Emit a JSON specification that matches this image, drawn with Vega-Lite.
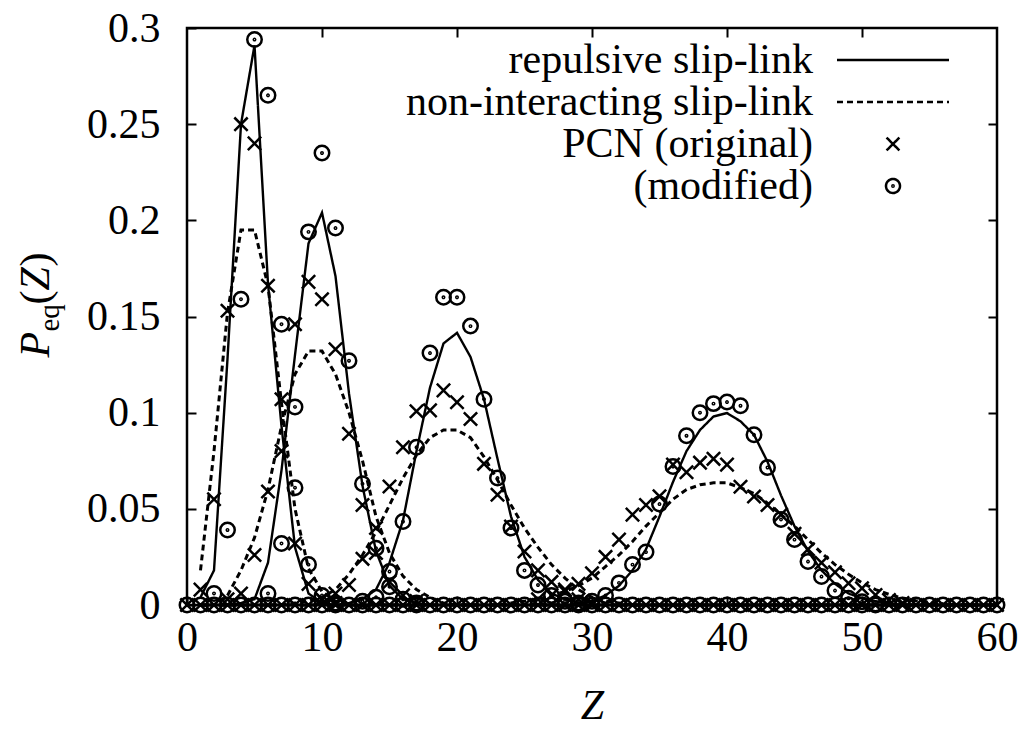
{
"$schema":"https://vega.github.io/schema/vega-lite/v6.json",
"autosize":{"type":"none"},
"padding":{"left":187,"top":28,"right":29,"bottom":125},
"width":810,"height":577,
"background":"white",
"config":{"view":{"stroke":"black","strokeWidth":2.5},"axis":{"grid":false,"domain":false}},
"data":{"values":[
{"z":1,"p":0.004,"k":"rep","g":"A"},{"z":2,"p":0.018,"k":"rep","g":"A"},{"z":3,"p":0.128,"k":"rep","g":"A"},{"z":4,"p":0.25,"k":"rep","g":"A"},{"z":5,"p":0.291,"k":"rep","g":"A"},{"z":6,"p":0.167,"k":"rep","g":"A"},{"z":7,"p":0.093,"k":"rep","g":"A"},{"z":8,"p":0.03,"k":"rep","g":"A"},{"z":9,"p":0.006,"k":"rep","g":"A"},{"z":10,"p":0.001,"k":"rep","g":"A"},{"z":11,"p":0,"k":"rep","g":"A"},{"z":60,"p":0,"k":"rep","g":"A"},
{"z":1,"p":0.018,"k":"non","g":"A"},{"z":2,"p":0.08,"k":"non","g":"A"},{"z":3,"p":0.152,"k":"non","g":"A"},{"z":4,"p":0.195,"k":"non","g":"A"},{"z":5,"p":0.195,"k":"non","g":"A"},{"z":6,"p":0.166,"k":"non","g":"A"},{"z":7,"p":0.105,"k":"non","g":"A"},{"z":8,"p":0.05,"k":"non","g":"A"},{"z":9,"p":0.019,"k":"non","g":"A"},{"z":10,"p":0.007,"k":"non","g":"A"},{"z":11,"p":0.002,"k":"non","g":"A"},{"z":12,"p":0,"k":"non","g":"A"},{"z":60,"p":0,"k":"non","g":"A"},
{"z":1,"p":0,"k":"rep","g":"B"},{"z":3,"p":0,"k":"rep","g":"B"},{"z":4,"p":0.001,"k":"rep","g":"B"},{"z":5,"p":0.003,"k":"rep","g":"B"},{"z":6,"p":0.022,"k":"rep","g":"B"},{"z":7,"p":0.07,"k":"rep","g":"B"},{"z":8,"p":0.13,"k":"rep","g":"B"},{"z":9,"p":0.188,"k":"rep","g":"B"},{"z":10,"p":0.204,"k":"rep","g":"B"},{"z":11,"p":0.171,"k":"rep","g":"B"},{"z":12,"p":0.11,"k":"rep","g":"B"},{"z":13,"p":0.062,"k":"rep","g":"B"},{"z":14,"p":0.028,"k":"rep","g":"B"},{"z":15,"p":0.01,"k":"rep","g":"B"},{"z":16,"p":0.003,"k":"rep","g":"B"},{"z":17,"p":0.001,"k":"rep","g":"B"},{"z":18,"p":0,"k":"rep","g":"B"},{"z":60,"p":0,"k":"rep","g":"B"},
{"z":1,"p":0,"k":"non","g":"B"},{"z":2,"p":0,"k":"non","g":"B"},{"z":3,"p":0.005,"k":"non","g":"B"},{"z":4,"p":0.018,"k":"non","g":"B"},{"z":5,"p":0.035,"k":"non","g":"B"},{"z":6,"p":0.06,"k":"non","g":"B"},{"z":7,"p":0.093,"k":"non","g":"B"},{"z":8,"p":0.12,"k":"non","g":"B"},{"z":9,"p":0.132,"k":"non","g":"B"},{"z":10,"p":0.132,"k":"non","g":"B"},{"z":11,"p":0.12,"k":"non","g":"B"},{"z":12,"p":0.1,"k":"non","g":"B"},{"z":13,"p":0.075,"k":"non","g":"B"},{"z":14,"p":0.046,"k":"non","g":"B"},{"z":15,"p":0.027,"k":"non","g":"B"},{"z":16,"p":0.015,"k":"non","g":"B"},{"z":17,"p":0.008,"k":"non","g":"B"},{"z":18,"p":0.004,"k":"non","g":"B"},{"z":19,"p":0.001,"k":"non","g":"B"},{"z":20,"p":0,"k":"non","g":"B"},{"z":60,"p":0,"k":"non","g":"B"},
{"z":1,"p":0,"k":"rep","g":"C"},{"z":11,"p":0,"k":"rep","g":"C"},{"z":12,"p":0.001,"k":"rep","g":"C"},{"z":13,"p":0.003,"k":"rep","g":"C"},{"z":14,"p":0.008,"k":"rep","g":"C"},{"z":15,"p":0.022,"k":"rep","g":"C"},{"z":16,"p":0.044,"k":"rep","g":"C"},{"z":17,"p":0.08,"k":"rep","g":"C"},{"z":18,"p":0.113,"k":"rep","g":"C"},{"z":19,"p":0.136,"k":"rep","g":"C"},{"z":20,"p":0.1415,"k":"rep","g":"C"},{"z":21,"p":0.129,"k":"rep","g":"C"},{"z":22,"p":0.107,"k":"rep","g":"C"},{"z":23,"p":0.076,"k":"rep","g":"C"},{"z":24,"p":0.046,"k":"rep","g":"C"},{"z":25,"p":0.025,"k":"rep","g":"C"},{"z":26,"p":0.013,"k":"rep","g":"C"},{"z":27,"p":0.006,"k":"rep","g":"C"},{"z":28,"p":0.003,"k":"rep","g":"C"},{"z":29,"p":0.001,"k":"rep","g":"C"},{"z":30,"p":0,"k":"rep","g":"C"},{"z":60,"p":0,"k":"rep","g":"C"},
{"z":1,"p":0,"k":"non","g":"C"},{"z":7,"p":0,"k":"non","g":"C"},{"z":8,"p":0.001,"k":"non","g":"C"},{"z":9,"p":0.002,"k":"non","g":"C"},{"z":10,"p":0.004,"k":"non","g":"C"},{"z":11,"p":0.008,"k":"non","g":"C"},{"z":12,"p":0.016,"k":"non","g":"C"},{"z":13,"p":0.026,"k":"non","g":"C"},{"z":14,"p":0.038,"k":"non","g":"C"},{"z":15,"p":0.052,"k":"non","g":"C"},{"z":16,"p":0.066,"k":"non","g":"C"},{"z":17,"p":0.078,"k":"non","g":"C"},{"z":18,"p":0.087,"k":"non","g":"C"},{"z":19,"p":0.091,"k":"non","g":"C"},{"z":20,"p":0.091,"k":"non","g":"C"},{"z":21,"p":0.087,"k":"non","g":"C"},{"z":22,"p":0.077,"k":"non","g":"C"},{"z":23,"p":0.065,"k":"non","g":"C"},{"z":24,"p":0.052,"k":"non","g":"C"},{"z":25,"p":0.04,"k":"non","g":"C"},{"z":26,"p":0.03,"k":"non","g":"C"},{"z":27,"p":0.021,"k":"non","g":"C"},{"z":28,"p":0.014,"k":"non","g":"C"},{"z":29,"p":0.008,"k":"non","g":"C"},{"z":30,"p":0.004,"k":"non","g":"C"},{"z":31,"p":0.002,"k":"non","g":"C"},{"z":32,"p":0.001,"k":"non","g":"C"},{"z":33,"p":0,"k":"non","g":"C"},{"z":60,"p":0,"k":"non","g":"C"},
{"z":1,"p":0,"k":"rep","g":"D"},{"z":28,"p":0,"k":"rep","g":"D"},{"z":29,"p":0.0005,"k":"rep","g":"D"},{"z":30,"p":0.002,"k":"rep","g":"D"},{"z":31,"p":0.005,"k":"rep","g":"D"},{"z":32,"p":0.01,"k":"rep","g":"D"},{"z":33,"p":0.018,"k":"rep","g":"D"},{"z":34,"p":0.029,"k":"rep","g":"D"},{"z":35,"p":0.046,"k":"rep","g":"D"},{"z":36,"p":0.064,"k":"rep","g":"D"},{"z":37,"p":0.08,"k":"rep","g":"D"},{"z":38,"p":0.091,"k":"rep","g":"D"},{"z":39,"p":0.098,"k":"rep","g":"D"},{"z":40,"p":0.0998,"k":"rep","g":"D"},{"z":41,"p":0.0955,"k":"rep","g":"D"},{"z":42,"p":0.0885,"k":"rep","g":"D"},{"z":43,"p":0.0745,"k":"rep","g":"D"},{"z":44,"p":0.057,"k":"rep","g":"D"},{"z":45,"p":0.041,"k":"rep","g":"D"},{"z":46,"p":0.028,"k":"rep","g":"D"},{"z":47,"p":0.018,"k":"rep","g":"D"},{"z":48,"p":0.011,"k":"rep","g":"D"},{"z":49,"p":0.006,"k":"rep","g":"D"},{"z":50,"p":0.0035,"k":"rep","g":"D"},{"z":51,"p":0.002,"k":"rep","g":"D"},{"z":52,"p":0.001,"k":"rep","g":"D"},{"z":53,"p":0,"k":"rep","g":"D"},{"z":60,"p":0,"k":"rep","g":"D"},
{"z":1,"p":0,"k":"non","g":"D"},{"z":23,"p":0,"k":"non","g":"D"},{"z":24,"p":0.001,"k":"non","g":"D"},{"z":25,"p":0.002,"k":"non","g":"D"},{"z":26,"p":0.003,"k":"non","g":"D"},{"z":27,"p":0.005,"k":"non","g":"D"},{"z":28,"p":0.007,"k":"non","g":"D"},{"z":29,"p":0.01,"k":"non","g":"D"},{"z":30,"p":0.014,"k":"non","g":"D"},{"z":31,"p":0.02,"k":"non","g":"D"},{"z":32,"p":0.026,"k":"non","g":"D"},{"z":33,"p":0.033,"k":"non","g":"D"},{"z":34,"p":0.041,"k":"non","g":"D"},{"z":35,"p":0.048,"k":"non","g":"D"},{"z":36,"p":0.055,"k":"non","g":"D"},{"z":37,"p":0.06,"k":"non","g":"D"},{"z":38,"p":0.0625,"k":"non","g":"D"},{"z":39,"p":0.0635,"k":"non","g":"D"},{"z":40,"p":0.0635,"k":"non","g":"D"},{"z":41,"p":0.061,"k":"non","g":"D"},{"z":42,"p":0.058,"k":"non","g":"D"},{"z":43,"p":0.053,"k":"non","g":"D"},{"z":44,"p":0.047,"k":"non","g":"D"},{"z":45,"p":0.041,"k":"non","g":"D"},{"z":46,"p":0.034,"k":"non","g":"D"},{"z":47,"p":0.027,"k":"non","g":"D"},{"z":48,"p":0.021,"k":"non","g":"D"},{"z":49,"p":0.016,"k":"non","g":"D"},{"z":50,"p":0.0115,"k":"non","g":"D"},{"z":51,"p":0.008,"k":"non","g":"D"},{"z":52,"p":0.0055,"k":"non","g":"D"},{"z":53,"p":0.0035,"k":"non","g":"D"},{"z":54,"p":0.0022,"k":"non","g":"D"},{"z":55,"p":0.0013,"k":"non","g":"D"},{"z":56,"p":0.0007,"k":"non","g":"D"},{"z":57,"p":0.0003,"k":"non","g":"D"},{"z":58,"p":0,"k":"non","g":"D"},{"z":60,"p":0,"k":"non","g":"D"},
{"z":1,"p":0.008,"k":"pcn","g":"A"},{"z":2,"p":0.055,"k":"pcn","g":"A"},{"z":3,"p":0.153,"k":"pcn","g":"A"},{"z":4,"p":0.25,"k":"pcn","g":"A"},{"z":5,"p":0.24,"k":"pcn","g":"A"},{"z":6,"p":0.166,"k":"pcn","g":"A"},{"z":7,"p":0.08,"k":"pcn","g":"A"},{"z":8,"p":0.032,"k":"pcn","g":"A"},{"z":9,"p":0.011,"k":"pcn","g":"A"},{"z":10,"p":0.003,"k":"pcn","g":"A"},{"z":11,"p":0.001,"k":"pcn","g":"A"},
{"z":2,"p":0.006,"k":"mod","g":"A"},{"z":3,"p":0.039,"k":"mod","g":"A"},{"z":4,"p":0.159,"k":"mod","g":"A"},{"z":5,"p":0.294,"k":"mod","g":"A"},{"z":6,"p":0.265,"k":"mod","g":"A"},{"z":7,"p":0.146,"k":"mod","g":"A"},{"z":8,"p":0.061,"k":"mod","g":"A"},{"z":9,"p":0.021,"k":"mod","g":"A"},{"z":10,"p":0.005,"k":"mod","g":"A"},{"z":11,"p":0.001,"k":"mod","g":"A"},
{"z":3,"p":0.003,"k":"pcn","g":"B"},{"z":4,"p":0.006,"k":"pcn","g":"B"},{"z":5,"p":0.026,"k":"pcn","g":"B"},{"z":6,"p":0.059,"k":"pcn","g":"B"},{"z":7,"p":0.107,"k":"pcn","g":"B"},{"z":8,"p":0.146,"k":"pcn","g":"B"},{"z":9,"p":0.168,"k":"pcn","g":"B"},{"z":10,"p":0.159,"k":"pcn","g":"B"},{"z":11,"p":0.133,"k":"pcn","g":"B"},{"z":12,"p":0.089,"k":"pcn","g":"B"},{"z":13,"p":0.052,"k":"pcn","g":"B"},{"z":14,"p":0.027,"k":"pcn","g":"B"},{"z":15,"p":0.012,"k":"pcn","g":"B"},{"z":16,"p":0.005,"k":"pcn","g":"B"},{"z":17,"p":0.002,"k":"pcn","g":"B"},
{"z":6,"p":0.006,"k":"mod","g":"B"},{"z":7,"p":0.032,"k":"mod","g":"B"},{"z":8,"p":0.103,"k":"mod","g":"B"},{"z":9,"p":0.194,"k":"mod","g":"B"},{"z":10,"p":0.235,"k":"mod","g":"B"},{"z":11,"p":0.196,"k":"mod","g":"B"},{"z":12,"p":0.127,"k":"mod","g":"B"},{"z":13,"p":0.063,"k":"mod","g":"B"},{"z":14,"p":0.0295,"k":"mod","g":"B"},{"z":15,"p":0.0095,"k":"mod","g":"B"},{"z":16,"p":0.003,"k":"mod","g":"B"},{"z":17,"p":0.001,"k":"mod","g":"B"},
{"z":10,"p":0.003,"k":"pcn","g":"C"},{"z":11,"p":0.006,"k":"pcn","g":"C"},{"z":12,"p":0.0104,"k":"pcn","g":"C"},{"z":13,"p":0.024,"k":"pcn","g":"C"},{"z":14,"p":0.04,"k":"pcn","g":"C"},{"z":15,"p":0.0616,"k":"pcn","g":"C"},{"z":16,"p":0.082,"k":"pcn","g":"C"},{"z":17,"p":0.1007,"k":"pcn","g":"C"},{"z":18,"p":0.1012,"k":"pcn","g":"C"},{"z":19,"p":0.1116,"k":"pcn","g":"C"},{"z":20,"p":0.1054,"k":"pcn","g":"C"},{"z":21,"p":0.0967,"k":"pcn","g":"C"},{"z":22,"p":0.0734,"k":"pcn","g":"C"},{"z":23,"p":0.0573,"k":"pcn","g":"C"},{"z":24,"p":0.0408,"k":"pcn","g":"C"},{"z":25,"p":0.0278,"k":"pcn","g":"C"},{"z":26,"p":0.018,"k":"pcn","g":"C"},{"z":27,"p":0.012,"k":"pcn","g":"C"},{"z":28,"p":0.007,"k":"pcn","g":"C"},{"z":29,"p":0.003,"k":"pcn","g":"C"},{"z":30,"p":0.001,"k":"pcn","g":"C"},
{"z":13,"p":0.002,"k":"mod","g":"C"},{"z":14,"p":0.004,"k":"mod","g":"C"},{"z":15,"p":0.0174,"k":"mod","g":"C"},{"z":16,"p":0.0434,"k":"mod","g":"C"},{"z":17,"p":0.082,"k":"mod","g":"C"},{"z":18,"p":0.131,"k":"mod","g":"C"},{"z":19,"p":0.16,"k":"mod","g":"C"},{"z":20,"p":0.16,"k":"mod","g":"C"},{"z":21,"p":0.145,"k":"mod","g":"C"},{"z":22,"p":0.107,"k":"mod","g":"C"},{"z":23,"p":0.066,"k":"mod","g":"C"},{"z":24,"p":0.04,"k":"mod","g":"C"},{"z":25,"p":0.018,"k":"mod","g":"C"},{"z":26,"p":0.0104,"k":"mod","g":"C"},{"z":27,"p":0.005,"k":"mod","g":"C"},{"z":28,"p":0.002,"k":"mod","g":"C"},
{"z":26,"p":0.003,"k":"pcn","g":"D"},{"z":27,"p":0.005,"k":"pcn","g":"D"},{"z":28,"p":0.008,"k":"pcn","g":"D"},{"z":29,"p":0.011,"k":"pcn","g":"D"},{"z":30,"p":0.0165,"k":"pcn","g":"D"},{"z":31,"p":0.025,"k":"pcn","g":"D"},{"z":32,"p":0.034,"k":"pcn","g":"D"},{"z":33,"p":0.047,"k":"pcn","g":"D"},{"z":34,"p":0.052,"k":"pcn","g":"D"},{"z":35,"p":0.0565,"k":"pcn","g":"D"},{"z":36,"p":0.073,"k":"pcn","g":"D"},{"z":37,"p":0.069,"k":"pcn","g":"D"},{"z":38,"p":0.074,"k":"pcn","g":"D"},{"z":39,"p":0.076,"k":"pcn","g":"D"},{"z":40,"p":0.073,"k":"pcn","g":"D"},{"z":41,"p":0.0615,"k":"pcn","g":"D"},{"z":42,"p":0.0564,"k":"pcn","g":"D"},{"z":43,"p":0.052,"k":"pcn","g":"D"},{"z":44,"p":0.047,"k":"pcn","g":"D"},{"z":45,"p":0.037,"k":"pcn","g":"D"},{"z":46,"p":0.029,"k":"pcn","g":"D"},{"z":47,"p":0.022,"k":"pcn","g":"D"},{"z":48,"p":0.017,"k":"pcn","g":"D"},{"z":49,"p":0.0113,"k":"pcn","g":"D"},{"z":50,"p":0.0087,"k":"pcn","g":"D"},{"z":51,"p":0.0052,"k":"pcn","g":"D"},{"z":52,"p":0.0026,"k":"pcn","g":"D"},{"z":53,"p":0.001,"k":"pcn","g":"D"},
{"z":29,"p":0.001,"k":"mod","g":"D"},{"z":30,"p":0.002,"k":"mod","g":"D"},{"z":31,"p":0.005,"k":"mod","g":"D"},{"z":32,"p":0.0115,"k":"mod","g":"D"},{"z":33,"p":0.021,"k":"mod","g":"D"},{"z":34,"p":0.0275,"k":"mod","g":"D"},{"z":35,"p":0.0525,"k":"mod","g":"D"},{"z":36,"p":0.072,"k":"mod","g":"D"},{"z":37,"p":0.088,"k":"mod","g":"D"},{"z":38,"p":0.1,"k":"mod","g":"D"},{"z":39,"p":0.1047,"k":"mod","g":"D"},{"z":40,"p":0.1055,"k":"mod","g":"D"},{"z":41,"p":0.1036,"k":"mod","g":"D"},{"z":42,"p":0.0885,"k":"mod","g":"D"},{"z":43,"p":0.0715,"k":"mod","g":"D"},{"z":44,"p":0.0445,"k":"mod","g":"D"},{"z":45,"p":0.034,"k":"mod","g":"D"},{"z":46,"p":0.0226,"k":"mod","g":"D"},{"z":47,"p":0.0148,"k":"mod","g":"D"},{"z":48,"p":0.0075,"k":"mod","g":"D"},{"z":49,"p":0.0035,"k":"mod","g":"D"},{"z":50,"p":0.0017,"k":"mod","g":"D"},{"z":51,"p":0.0005,"k":"mod","g":"D"},
{"z":0,"p":0,"k":"pcn","g":"Z"},{"z":1,"p":0,"k":"pcn","g":"Z"},{"z":2,"p":0,"k":"pcn","g":"Z"},{"z":3,"p":0,"k":"pcn","g":"Z"},{"z":4,"p":0,"k":"pcn","g":"Z"},{"z":5,"p":0,"k":"pcn","g":"Z"},{"z":6,"p":0,"k":"pcn","g":"Z"},{"z":7,"p":0,"k":"pcn","g":"Z"},{"z":8,"p":0,"k":"pcn","g":"Z"},{"z":9,"p":0,"k":"pcn","g":"Z"},{"z":10,"p":0,"k":"pcn","g":"Z"},{"z":11,"p":0,"k":"pcn","g":"Z"},{"z":12,"p":0,"k":"pcn","g":"Z"},{"z":13,"p":0,"k":"pcn","g":"Z"},{"z":14,"p":0,"k":"pcn","g":"Z"},{"z":15,"p":0,"k":"pcn","g":"Z"},{"z":16,"p":0,"k":"pcn","g":"Z"},{"z":17,"p":0,"k":"pcn","g":"Z"},{"z":18,"p":0,"k":"pcn","g":"Z"},{"z":19,"p":0,"k":"pcn","g":"Z"},{"z":20,"p":0,"k":"pcn","g":"Z"},{"z":21,"p":0,"k":"pcn","g":"Z"},{"z":22,"p":0,"k":"pcn","g":"Z"},{"z":23,"p":0,"k":"pcn","g":"Z"},{"z":24,"p":0,"k":"pcn","g":"Z"},{"z":25,"p":0,"k":"pcn","g":"Z"},{"z":26,"p":0,"k":"pcn","g":"Z"},{"z":27,"p":0,"k":"pcn","g":"Z"},{"z":28,"p":0,"k":"pcn","g":"Z"},{"z":29,"p":0,"k":"pcn","g":"Z"},{"z":30,"p":0,"k":"pcn","g":"Z"},{"z":31,"p":0,"k":"pcn","g":"Z"},{"z":32,"p":0,"k":"pcn","g":"Z"},{"z":33,"p":0,"k":"pcn","g":"Z"},{"z":34,"p":0,"k":"pcn","g":"Z"},{"z":35,"p":0,"k":"pcn","g":"Z"},{"z":36,"p":0,"k":"pcn","g":"Z"},{"z":37,"p":0,"k":"pcn","g":"Z"},{"z":38,"p":0,"k":"pcn","g":"Z"},{"z":39,"p":0,"k":"pcn","g":"Z"},{"z":40,"p":0,"k":"pcn","g":"Z"},{"z":41,"p":0,"k":"pcn","g":"Z"},{"z":42,"p":0,"k":"pcn","g":"Z"},{"z":43,"p":0,"k":"pcn","g":"Z"},{"z":44,"p":0,"k":"pcn","g":"Z"},{"z":45,"p":0,"k":"pcn","g":"Z"},{"z":46,"p":0,"k":"pcn","g":"Z"},{"z":47,"p":0,"k":"pcn","g":"Z"},{"z":48,"p":0,"k":"pcn","g":"Z"},{"z":49,"p":0,"k":"pcn","g":"Z"},{"z":50,"p":0,"k":"pcn","g":"Z"},{"z":51,"p":0,"k":"pcn","g":"Z"},{"z":52,"p":0,"k":"pcn","g":"Z"},{"z":53,"p":0,"k":"pcn","g":"Z"},{"z":54,"p":0,"k":"pcn","g":"Z"},{"z":55,"p":0,"k":"pcn","g":"Z"},{"z":56,"p":0,"k":"pcn","g":"Z"},{"z":57,"p":0,"k":"pcn","g":"Z"},{"z":58,"p":0,"k":"pcn","g":"Z"},{"z":59,"p":0,"k":"pcn","g":"Z"},{"z":60,"p":0,"k":"pcn","g":"Z"},
{"z":0,"p":0,"k":"mod","g":"Z"},{"z":1,"p":0,"k":"mod","g":"Z"},{"z":2,"p":0,"k":"mod","g":"Z"},{"z":3,"p":0,"k":"mod","g":"Z"},{"z":4,"p":0,"k":"mod","g":"Z"},{"z":5,"p":0,"k":"mod","g":"Z"},{"z":6,"p":0,"k":"mod","g":"Z"},{"z":7,"p":0,"k":"mod","g":"Z"},{"z":8,"p":0,"k":"mod","g":"Z"},{"z":9,"p":0,"k":"mod","g":"Z"},{"z":10,"p":0,"k":"mod","g":"Z"},{"z":11,"p":0,"k":"mod","g":"Z"},{"z":12,"p":0,"k":"mod","g":"Z"},{"z":13,"p":0,"k":"mod","g":"Z"},{"z":14,"p":0,"k":"mod","g":"Z"},{"z":15,"p":0,"k":"mod","g":"Z"},{"z":16,"p":0,"k":"mod","g":"Z"},{"z":17,"p":0,"k":"mod","g":"Z"},{"z":18,"p":0,"k":"mod","g":"Z"},{"z":19,"p":0,"k":"mod","g":"Z"},{"z":20,"p":0,"k":"mod","g":"Z"},{"z":21,"p":0,"k":"mod","g":"Z"},{"z":22,"p":0,"k":"mod","g":"Z"},{"z":23,"p":0,"k":"mod","g":"Z"},{"z":24,"p":0,"k":"mod","g":"Z"},{"z":25,"p":0,"k":"mod","g":"Z"},{"z":26,"p":0,"k":"mod","g":"Z"},{"z":27,"p":0,"k":"mod","g":"Z"},{"z":28,"p":0,"k":"mod","g":"Z"},{"z":29,"p":0,"k":"mod","g":"Z"},{"z":30,"p":0,"k":"mod","g":"Z"},{"z":31,"p":0,"k":"mod","g":"Z"},{"z":32,"p":0,"k":"mod","g":"Z"},{"z":33,"p":0,"k":"mod","g":"Z"},{"z":34,"p":0,"k":"mod","g":"Z"},{"z":35,"p":0,"k":"mod","g":"Z"},{"z":36,"p":0,"k":"mod","g":"Z"},{"z":37,"p":0,"k":"mod","g":"Z"},{"z":38,"p":0,"k":"mod","g":"Z"},{"z":39,"p":0,"k":"mod","g":"Z"},{"z":40,"p":0,"k":"mod","g":"Z"},{"z":41,"p":0,"k":"mod","g":"Z"},{"z":42,"p":0,"k":"mod","g":"Z"},{"z":43,"p":0,"k":"mod","g":"Z"},{"z":44,"p":0,"k":"mod","g":"Z"},{"z":45,"p":0,"k":"mod","g":"Z"},{"z":46,"p":0,"k":"mod","g":"Z"},{"z":47,"p":0,"k":"mod","g":"Z"},{"z":48,"p":0,"k":"mod","g":"Z"},{"z":49,"p":0,"k":"mod","g":"Z"},{"z":50,"p":0,"k":"mod","g":"Z"},{"z":51,"p":0,"k":"mod","g":"Z"},{"z":52,"p":0,"k":"mod","g":"Z"},{"z":53,"p":0,"k":"mod","g":"Z"},{"z":54,"p":0,"k":"mod","g":"Z"},{"z":55,"p":0,"k":"mod","g":"Z"},{"z":56,"p":0,"k":"mod","g":"Z"},{"z":57,"p":0,"k":"mod","g":"Z"},{"z":58,"p":0,"k":"mod","g":"Z"},{"z":59,"p":0,"k":"mod","g":"Z"},{"z":60,"p":0,"k":"mod","g":"Z"}
]},
"resolve":{"axis":{"x":"independent","y":"independent"}},
"layer":[
{"transform":[{"filter":"datum.k==='rep'||datum.k==='non'"}],
 "mark":{"type":"line","color":"black"},
 "encoding":{
  "x":{"field":"z","type":"quantitative","scale":{"domain":[0,60],"nice":false,"zero":false},
       "axis":{"orient":"bottom","values":[0,10,20,30,40,50,60],"tickSize":-9,"tickWidth":2,"tickColor":"black","labelPadding":21,"labelFont":"Liberation Serif","labelFontSize":42,"labelColor":"black","labelFlush":false,"labelOverlap":false,"domain":false,"title":"Z","titleFont":"Liberation Serif","titleFontSize":42,"titleFontStyle":"italic","titleFontWeight":"normal","titleColor":"black","titleY":113,"titleBaseline":"alphabetic"}},
  "y":{"field":"p","type":"quantitative","scale":{"domain":[0,0.3],"nice":false},
       "axis":{"orient":"left","values":[0,0.05,0.1,0.15,0.2,0.25,0.3],"format":"~g","tickSize":-9,"tickWidth":2,"tickColor":"black","labelPadding":36,"labelFont":"Liberation Serif","labelFontSize":42,"labelColor":"black","labelFlush":false,"labelOverlap":false,"domain":false,"title":"P","titleFont":"Liberation Serif","titleFontSize":42,"titleFontStyle":"italic","titleFontWeight":"normal","titleColor":"black","titleAngle":-90,"titleAlign":"left","titleBaseline":"alphabetic","titleX":-139,"titleY":329}},
  "detail":{"field":"g"},
  "strokeWidth":{"field":"k","type":"nominal","scale":{"domain":["rep","non"],"range":[2.4,3]},"legend":null},
  "strokeDash":{"field":"k","type":"nominal","scale":{"domain":["rep","non","pcn","mod"],"range":[[1,0],[6,4],[1,0],[1,0]]},
       "legend":{"title":null,"orient":"none","legendX":685,"legendY":11,"labelAlign":"right","labelOffset":-101,"labelFont":"Liberation Serif","labelFontSize":42,"labelColor":"black","labelLimit":800,"symbolSize":196,"symbolStrokeWidth":2.5,"symbolStrokeColor":"black","symbolFillColor":"transparent","rowPadding":0,"padding":0,"labelExpr":"datum.label==='rep'?'repulsive slip-link':datum.label==='non'?'non-interacting slip-link':datum.label==='pcn'?'PCN (original)':'(modified)'"}}
 }},
{"transform":[{"filter":"datum.k==='pcn'||datum.k==='mod'"}],
 "mark":{"type":"point","filled":false,"color":"black","size":210,"strokeWidth":2.5,"opacity":1},
 "encoding":{
  "x":{"field":"z","type":"quantitative","axis":null},
  "y":{"field":"p","type":"quantitative","axis":null},
  "shape":{"field":"k","type":"nominal","scale":{"domain":["rep","non","pcn","mod"],"range":["M -8 0 L 8 0","M -8 0 L 8 0","M -0.92 -0.92 L 0.92 0.92 M -0.92 0.92 L 0.92 -0.92","M -1 0 A 1 1 0 1 1 1 0 A 1 1 0 1 1 -1 0 Z M -0.1 0 A 0.1 0.1 0 1 1 0.1 0 A 0.1 0.1 0 1 1 -0.1 0 Z"]},
       "legend":{"title":null,"orient":"none","legendX":685,"legendY":11,"labelAlign":"right","labelOffset":-101,"labelFont":"Liberation Serif","labelFontSize":42,"labelColor":"black","labelLimit":800,"symbolSize":196,"symbolStrokeWidth":2.5,"symbolStrokeColor":"black","symbolFillColor":"transparent","rowPadding":0,"padding":0,"labelExpr":"datum.label==='rep'?'repulsive slip-link':datum.label==='non'?'non-interacting slip-link':datum.label==='pcn'?'PCN (original)':'(modified)'"}}
 }},
{"transform":[{"filter":"datum.g==='Z'&&datum.z===0&&datum.k==='mod'"}],
 "mark":{"type":"point","opacity":0},
 "encoding":{
  "x":{"field":"z","type":"quantitative","axis":{"orient":"top","values":[10,20,30,40,50],"tickSize":-9,"tickWidth":2,"tickColor":"black","labels":false,"domain":false,"title":null}},
  "y":{"field":"p","type":"quantitative","axis":{"orient":"right","values":[0.05,0.1,0.15,0.2,0.25],"tickSize":-9,"tickWidth":2,"tickColor":"black","labels":false,"domain":false,"title":null}}
 }},
{"transform":[{"filter":"datum.g==='Z'&&datum.z===0&&datum.k==='mod'"}],
 "mark":{"type":"point","opacity":0},
 "encoding":{
  "x":{"field":"z","type":"quantitative","axis":null},
  "y":{"field":"p","type":"quantitative","axis":{"orient":"left","labels":false,"ticks":false,"domain":false,"title":"eq","titleFont":"Liberation Serif","titleFontSize":29,"titleFontStyle":"normal","titleFontWeight":"normal","titleColor":"black","titleAngle":-90,"titleAlign":"left","titleBaseline":"alphabetic","titleX":-129,"titleY":303}}
 }},
{"transform":[{"filter":"datum.g==='Z'&&datum.z===0&&datum.k==='mod'"}],
 "mark":{"type":"point","opacity":0},
 "encoding":{
  "x":{"field":"z","type":"quantitative","axis":null},
  "y":{"field":"p","type":"quantitative","axis":{"orient":"left","labels":false,"ticks":false,"domain":false,"title":"(","titleFont":"Liberation Serif","titleFontSize":42,"titleFontStyle":"normal","titleFontWeight":"normal","titleColor":"black","titleAngle":-90,"titleAlign":"left","titleBaseline":"alphabetic","titleX":-139,"titleY":276}}
 }},
{"transform":[{"filter":"datum.g==='Z'&&datum.z===0&&datum.k==='mod'"}],
 "mark":{"type":"point","opacity":0},
 "encoding":{
  "x":{"field":"z","type":"quantitative","axis":null},
  "y":{"field":"p","type":"quantitative","axis":{"orient":"left","labels":false,"ticks":false,"domain":false,"title":"Z","titleFont":"Liberation Serif","titleFontSize":42,"titleFontStyle":"italic","titleFontWeight":"normal","titleColor":"black","titleAngle":-90,"titleAlign":"left","titleBaseline":"alphabetic","titleX":-139,"titleY":262}}
 }},
{"transform":[{"filter":"datum.g==='Z'&&datum.z===0&&datum.k==='mod'"}],
 "mark":{"type":"point","opacity":0},
 "encoding":{
  "x":{"field":"z","type":"quantitative","axis":null},
  "y":{"field":"p","type":"quantitative","axis":{"orient":"left","labels":false,"ticks":false,"domain":false,"title":")","titleFont":"Liberation Serif","titleFontSize":42,"titleFontStyle":"normal","titleFontWeight":"normal","titleColor":"black","titleAngle":-90,"titleAlign":"left","titleBaseline":"alphabetic","titleX":-139,"titleY":238}}
 }}
]
}
